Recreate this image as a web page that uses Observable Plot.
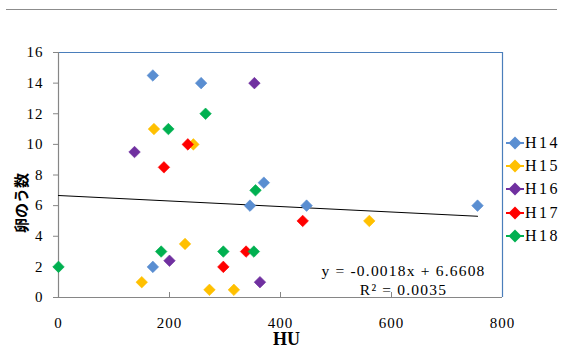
<!DOCTYPE html>
<html>
<head>
<meta charset="utf-8">
<script src="https://cdn.jsdelivr.net/npm/d3@7"></script>
<script src="https://cdn.jsdelivr.net/npm/@observablehq/plot@0.6"></script>
<style>
  html, body { margin: 0; padding: 0; background: #fff; }
  #wrap { position: relative; width: 566px; height: 351px; overflow: hidden; font-family: "Liberation Serif", "DejaVu Serif", serif; }
  #topline { position: absolute; left: 6px; top: 9px; width: 551px; height: 1px; background: #8c8c8c; }
  #legend { position: absolute; left: 505px; top: 131px; }
  .item { height: 23.3px; display: flex; align-items: center; font-size: 16px; letter-spacing: 2.5px; color: #000; }
  .item svg { margin-right: 0px; }
  #wrap svg g[aria-label="x-axis tick label"] text,
  #wrap svg g[aria-label="y-axis tick label"] text { letter-spacing: 1px; }
</style>
</head>
<body>
<div id="wrap"><div id="topline"></div><div id="legend"></div></div>
<script>
// ---- data ----
const seriesNames = ["H14", "H15", "H16", "H17", "H18"];
const seriesColors = ["#5a8ed1", "#ffc000", "#7030a0", "#ff0000", "#00b050"];

const h14X = [170, 257, 370, 345, 447, 755, 170];
const h14Y = [14.5, 14, 7.5, 6, 6, 6, 2];
const h15X = [172, 243, 228, 150, 272, 316, 560];
const h15Y = [11, 10, 3.5, 1, 0.5, 0.5, 5];
const h16X = [353, 137, 200, 363];
const h16Y = [14, 9.5, 2.4, 1];
const h17X = [233, 190, 440, 338, 297];
const h17Y = [10, 8.5, 5, 3, 2];
const h18X = [265, 198, 355, 185, 297, 352, 0];
const h18Y = [12, 11, 7, 3, 3, 3, 2];

const xTicks = [0, 200, 400, 600, 800];
const yTicks = [0, 2, 4, 6, 8, 10, 12, 14, 16];
const xLabel = "HU";
const yLabel = "卵のう数";

// trendline as printed on the chart
const slope = -0.0018;
const intercept = 6.6608;
const r2 = "0.0035";

// ---- build table ----
const xs = [h14X, h15X, h16X, h17X, h18X];
const ys = [h14Y, h15Y, h16Y, h17Y, h18Y];
const points = [];
seriesNames.forEach((s, i) => xs[i].forEach((x, j) => points.push({series: s, x, y: ys[i][j]})));
const [xMin, xMax] = d3.extent(points, d => d.x);
const trend = [xMin, xMax].map(x => ({x, y: intercept + slope * x}));
const eqText = `y = ${slope.toFixed(4)}x + ${intercept.toFixed(4)}\nR² = ${r2}`;

const serif = "Liberation Serif, DejaVu Serif, serif";

const chart = Plot.plot({
  width: 566,
  height: 351,
  marginLeft: 58,
  marginRight: 64,
  marginTop: 52,
  marginBottom: 54,
  style: {fontFamily: serif, background: "white", overflow: "visible"},
  x: {type: "linear", domain: [0, 800], axis: null},
  y: {type: "linear", domain: [0, 16], axis: null},
  color: {domain: seriesNames, range: seriesColors},
  marks: [
    Plot.ruleY([16], {stroke: "#4a7ebb", strokeWidth: 1.2}),
    Plot.ruleX([800], {stroke: "#4a7ebb", strokeWidth: 1.2}),
    Plot.ruleY([0], {stroke: "#868686", strokeWidth: 1.2}),
    Plot.ruleX([0], {stroke: "#868686", strokeWidth: 1.2}),
    Plot.axisY({ticks: yTicks, label: null, tickSize: 5, tickPadding: 10, stroke: "#868686", fontSize: 15, tickFormat: d => d, fill: "#000"}),
    Plot.axisX({ticks: xTicks, label: null, tickSize: 0, tickPadding: 20, fontSize: 15, tickFormat: d => d, fill: "#000"}),
    Plot.tickX(xTicks.slice(1, -1), {x: d => d, stroke: "#868686", insetTop: 240}),
    Plot.line(trend, {x: "x", y: "y", stroke: "#000", strokeWidth: 1.1}),
    Plot.dot(points, {x: "x", y: "y", fill: "series", stroke: "series", strokeWidth: 0.6, symbol: "diamond2", r: 5.2}),
    Plot.text([eqText], {frameAnchor: "bottom-right", dx: -99, dy: -3, textAnchor: "middle", lineAnchor: "bottom", lineHeight: 1.2, fontSize: 15.5, fill: "#000"}),
    Plot.text([xLabel], {frameAnchor: "bottom", dx: 6, dy: 42, lineAnchor: "middle", fontSize: 18, fontWeight: "bold", fill: "#000"}),
    Plot.text([yLabel], {frameAnchor: "left", dx: -36, dy: 58, rotate: -90, fontSize: 15, fontWeight: "bold", fontFamily: "Noto Sans CJK JP", fill: "#000"})
  ]
});
document.getElementById("wrap").prepend(chart);
chart.style.position = "absolute";
chart.style.left = "0px";
chart.style.top = "0px";

// widen the equation text like the original's wide serif face
d3.select(chart).selectAll("text").filter(function () {
  return this.textContent.includes(r2) || this.textContent.includes("x +");
}).style("letter-spacing", "1.2px");

// ---- legend ----
const legend = document.getElementById("legend");
seriesNames.forEach((s, i) => {
  const div = document.createElement("div");
  div.className = "item";
  const c = seriesColors[i];
  div.innerHTML = `<svg width="20" height="16"><line x1="1" x2="19" y1="8" y2="8" stroke="${c}" stroke-width="2"/><polygon points="10,1.5 16.5,8 10,14.5 3.5,8" fill="${c}"/></svg><span>${s}</span>`;
  legend.appendChild(div);
});
</script>
</body>
</html>
